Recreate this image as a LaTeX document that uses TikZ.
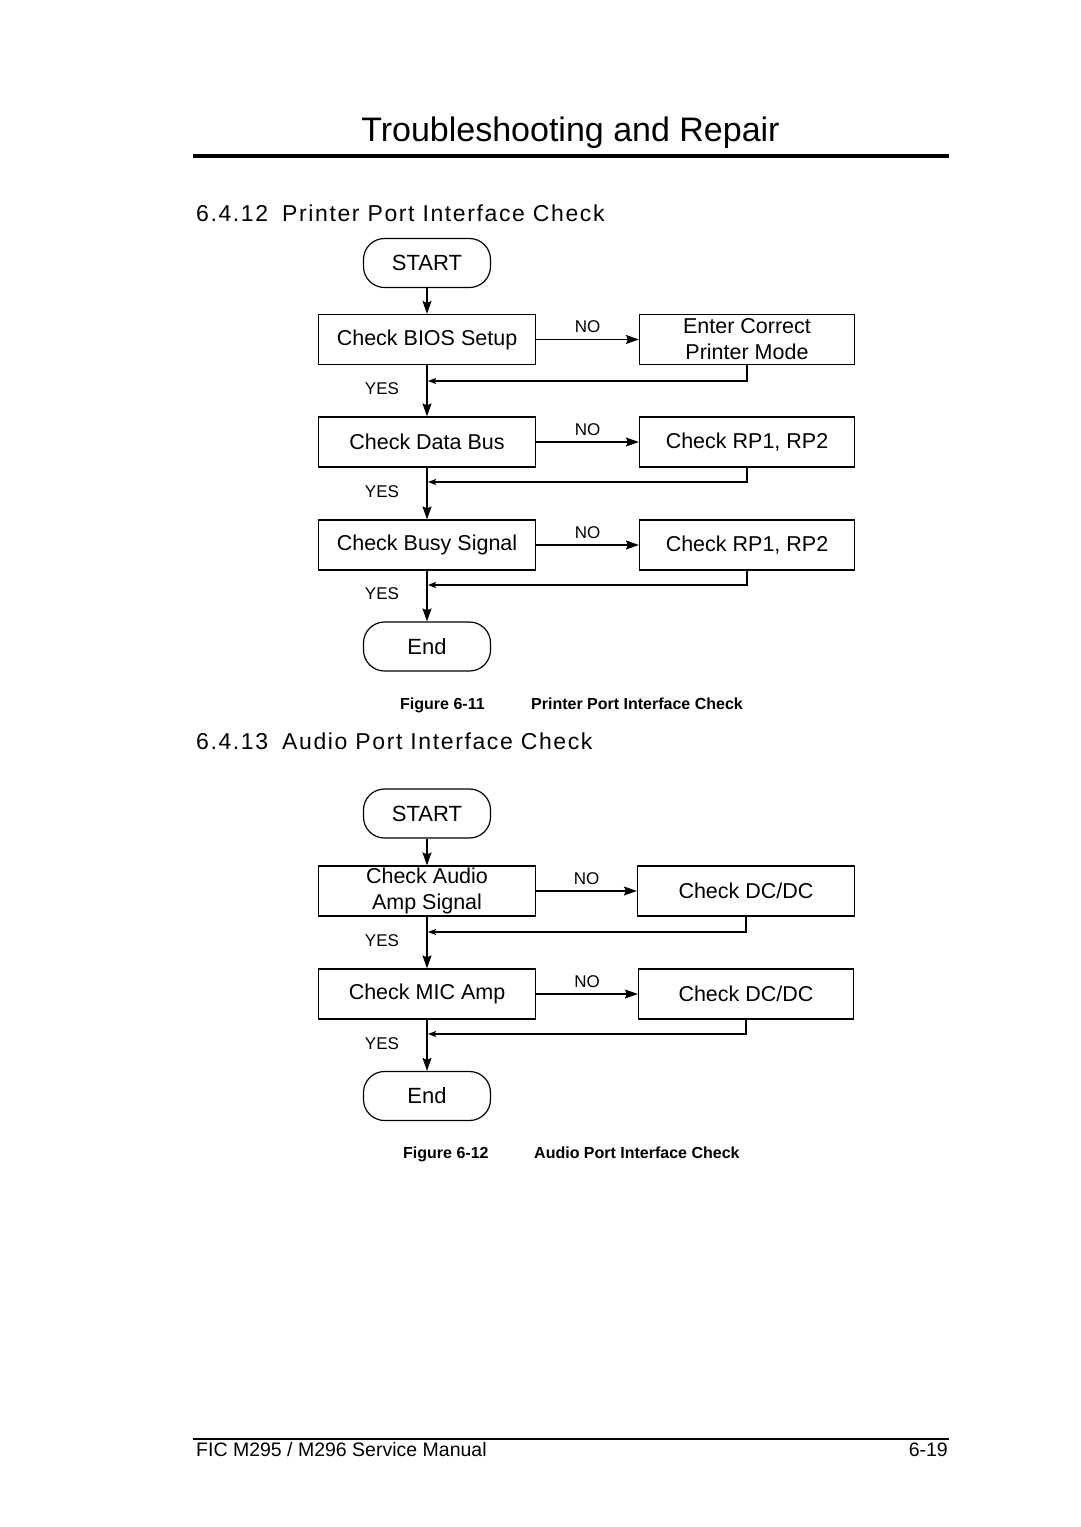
\documentclass[tikz,border=0pt]{standalone}
\usepackage{fontspec}
\setmainfont{Liberation Sans}
\usetikzlibrary{arrows.meta,calc}
\begin{document}
\begin{tikzpicture}[x=1pt,y=-1pt,
  box/.style={draw, line width=1.2pt, minimum width=217pt, minimum height=50pt, inner sep=0pt, align=center, font=\fontsize{21.5}{26}\selectfont},
  rbox/.style={box, minimum width=215pt},
  term/.style={draw, line width=1.2pt, rounded corners=21pt, minimum width=127pt, minimum height=49pt, inner sep=0pt, font=\fontsize{22}{26}\selectfont},
  lbl/.style={font=\fontsize{17}{20}\selectfont, inner sep=0pt},
  conn/.style={line width=1.2pt, -{Stealth[length=13pt,width=9pt,inset=2pt]}},
  back/.style={line width=1.2pt, -{Stealth[length=8pt,width=6pt,inset=1.5pt]}},
  figcap/.style={font=\fontsize{16}{19}\selectfont\bfseries, inner sep=0pt, anchor=base west},
  heading/.style={font=\fontsize{23}{27}\selectfont\addfontfeature{LetterSpace=7}, inner sep=0pt, anchor=base west},
  rulestyle/.style={line width=#1}
]
\useasboundingbox (0,0) rectangle (1080,1527);
\fill[white] (0,0) rectangle (1080,1527);

% page header
\node[font=\fontsize{34}{40}\selectfont, inner sep=0pt, anchor=base] (title) at (570.5,141.7) {Troubleshooting and Repair};
\coordinate (hr1) at (193,155.5);
\coordinate (hr2) at (949,155.5);
\draw[rulestyle=4pt] (hr1) -- (hr2);

% section 6.4.12
\node[heading] (h1) at (196,221.7) {6.4.12\hspace{6pt} Printer Port Interface Check};

\node[term] (s1) at (427,263) {START};
\node[box] (a1) at (427,339.5) {Check BIOS Setup};
\node[rbox] (p1) at (747,339.5) {Enter Correct\\Printer Mode};
\node[box] (a2) at (427,442) {Check Data Bus};
\node[rbox] (p2) at (747,442) {Check RP1, RP2};
\node[box] (a3) at (427,545) {Check Busy Signal};
\node[rbox] (p3) at (747,545) {Check RP1, RP2};
\node[term] (e1) at (427,646.5) {End};

\coordinate (j1) at (428,381);
\coordinate (j2) at (428,482);
\coordinate (j3) at (428,585);

\draw[conn] (s1) -- (a1);
\draw[conn] (a1) -- node[lbl, above=6pt] (no1) {NO} (p1);
\draw[conn] (a1) -- node[lbl, pos=0.46, xshift=-45pt] (yes1) {YES} (a2);
\draw[back] (p1.south) |- (j1);
\draw[conn] (a2) -- node[lbl, above=6pt] (no2) {NO} (p2);
\draw[conn] (a2) -- node[lbl, pos=0.46, xshift=-45pt] (yes2) {YES} (a3);
\draw[back] (p2.south) |- (j2);
\draw[conn] (a3) -- node[lbl, above=6pt] (no3) {NO} (p3);
\draw[conn] (a3) -- node[lbl, pos=0.46, xshift=-45pt] (yes3) {YES} (e1);
\draw[back] (p3.south) |- (j3);

\node[figcap] (f1a) at (400,709) {Figure 6-11};
\node[figcap] (f1b) at (531,709) {Printer Port Interface Check};

% section 6.4.13
\node[heading] (h2) at (196,749.7) {6.4.13\hspace{6pt} Audio Port Interface Check};

\node[term] (s2) at (427,813.5) {START};
\node[box] (c1) at (427,891) {Check Audio\\Amp Signal};
\node[rbox, minimum width=217pt] (d1) at (746,891) {Check DC/DC};
\node[box] (c2) at (427,994) {Check MIC Amp};
\node[rbox] (d2) at (746,994) {Check DC/DC};
\node[term] (e2) at (427,1096) {End};

\coordinate (k1) at (428,932);
\coordinate (k2) at (428,1034);

\draw[conn] (s2) -- (c1);
\draw[conn] (c1) -- node[lbl, above=6pt] (no4) {NO} (d1);
\draw[conn] (c1) -- node[lbl, pos=0.46, xshift=-45pt] (yes4) {YES} (c2);
\draw[back] (d1.south) |- (k1);
\draw[conn] (c2) -- node[lbl, above=6pt] (no5) {NO} (d2);
\draw[conn] (c2) -- node[lbl, pos=0.46, xshift=-45pt] (yes5) {YES} (e2);
\draw[back] (d2.south) |- (k2);

\node[figcap] (f2a) at (403,1158) {Figure 6-12};
\node[figcap] (f2b) at (534,1158) {Audio Port Interface Check};

% footer
\coordinate (fr1) at (193,1439);
\coordinate (fr2) at (949,1439);
\draw[rulestyle=2.2pt] (fr1) -- (fr2);
\node[font=\fontsize{19.5}{23}\selectfont, inner sep=0pt, anchor=base west] (foot) at (196,1456.5) {FIC M295 / M296 Service Manual};
\node[font=\fontsize{19.5}{23}\selectfont, inner sep=0pt, anchor=base east] (page) at (948,1456.5) {6-19};
\end{tikzpicture}
\end{document}
